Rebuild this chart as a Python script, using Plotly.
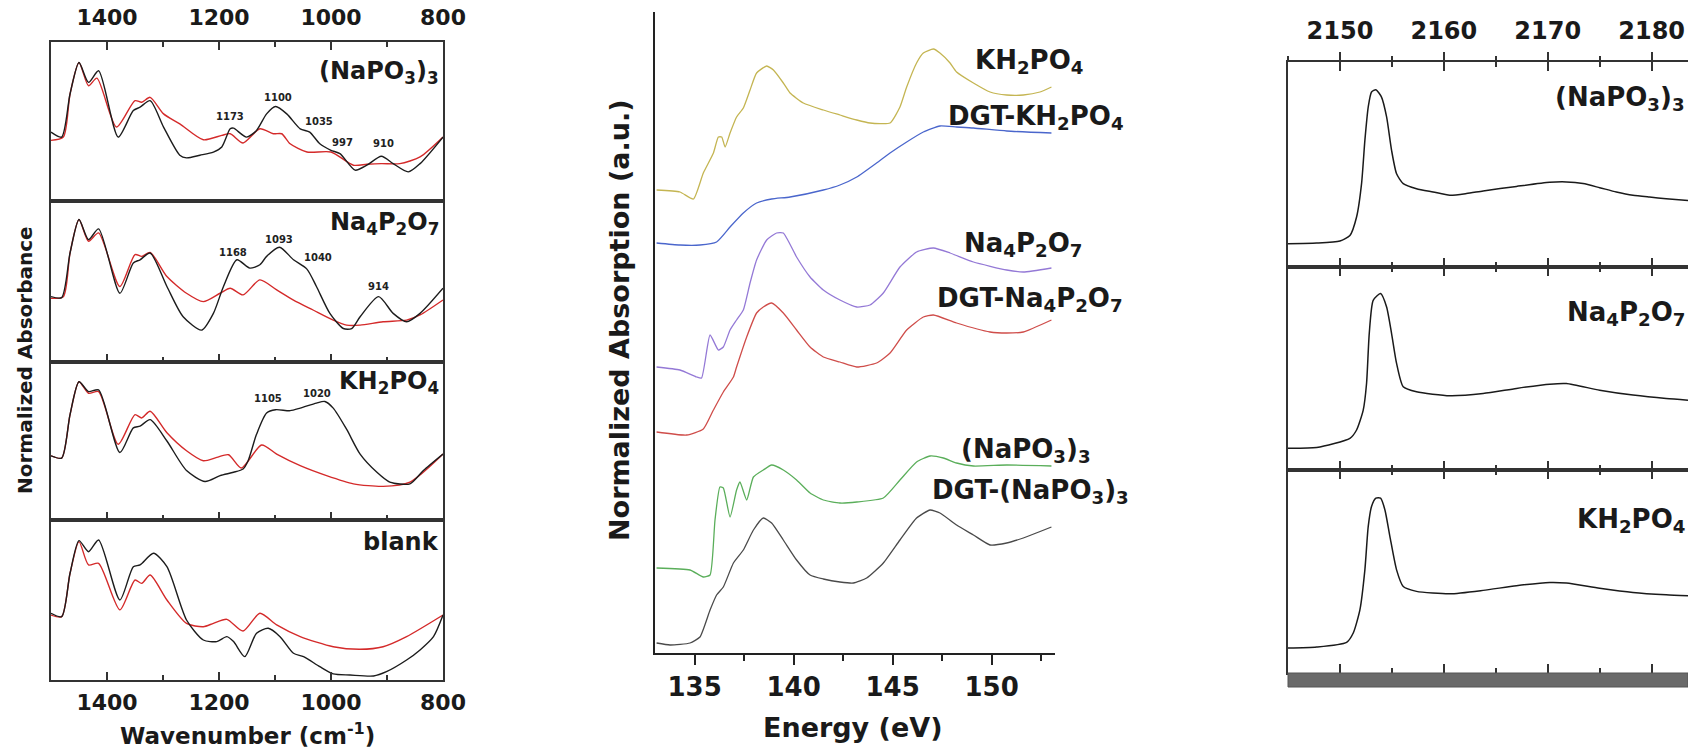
import plotly.graph_objects as go

W, H = 1688, 749
FONT = "DejaVu Sans"
INK = "#1a1a1a"
FRAME = "#333333"

# ---------------- Left: FTIR panels (wavenumber, normalized absorbance) ----------------
ir_labels = ["(NaPO<sub>3</sub>)<sub>3</sub>", "Na<sub>4</sub>P<sub>2</sub>O<sub>7</sub>",
             "KH<sub>2</sub>PO<sub>4</sub>", "blank"]

ir_napo3_black_wn = [1500, 1481, 1466, 1450, 1433, 1415, 1380, 1353, 1341, 1323, 1299, 1270, 1258, 1234, 1210,
                     1195, 1180, 1174, 1151, 1133, 1115, 1099, 1079, 1055, 1038, 1020, 1000, 984, 957, 936,
                     910, 889, 862, 841, 800]
ir_napo3_black_ab = [0.433, 0.402, 0.673, 0.871, 0.746, 0.819, 0.402, 0.569, 0.590, 0.631, 0.465, 0.288, 0.271,
                     0.288, 0.308, 0.340, 0.454, 0.458, 0.402, 0.444, 0.548, 0.594, 0.548, 0.454, 0.433, 0.360,
                     0.319, 0.298, 0.194, 0.225, 0.281, 0.235, 0.183, 0.235, 0.402]
ir_napo3_red_wn = [1500, 1478, 1466, 1450, 1433, 1418, 1383, 1350, 1338, 1323, 1299, 1270, 1228, 1195, 1180,
                   1157, 1127, 1103, 1088, 1073, 1043, 1000, 960, 936, 910, 877, 841, 800]
ir_napo3_red_ab = [0.381, 0.402, 0.673, 0.871, 0.725, 0.773, 0.465, 0.631, 0.621, 0.652, 0.548, 0.485, 0.385,
                   0.413, 0.423, 0.365, 0.454, 0.423, 0.423, 0.360, 0.308, 0.308, 0.225, 0.231, 0.235, 0.235,
                   0.277, 0.402]

ir_na4_black_wn = [1500, 1481, 1466, 1450, 1433, 1415, 1377, 1353, 1341, 1323, 1293, 1264, 1231, 1210, 1192,
                   1168, 1145, 1127, 1115, 1092, 1067, 1043, 1026, 1002, 978, 963, 948, 915, 889, 865, 841, 800]
ir_na4_black_ab = [0.406, 0.400, 0.677, 0.885, 0.760, 0.827, 0.427, 0.615, 0.635, 0.677, 0.469, 0.281, 0.198,
                   0.302, 0.469, 0.635, 0.583, 0.604, 0.656, 0.713, 0.635, 0.577, 0.469, 0.302, 0.208, 0.208,
                   0.281, 0.406, 0.302, 0.250, 0.302, 0.458]
ir_na4_red_wn = [1500, 1478, 1466, 1450, 1433, 1415, 1377, 1350, 1338, 1323, 1293, 1258, 1228, 1198, 1180,
                 1157, 1127, 1097, 1067, 1032, 996, 972, 948, 907, 865, 841, 800]
ir_na4_red_ab = [0.396, 0.406, 0.677, 0.885, 0.750, 0.802, 0.469, 0.667, 0.656, 0.681, 0.531, 0.427, 0.375,
                 0.427, 0.458, 0.417, 0.510, 0.448, 0.385, 0.323, 0.260, 0.229, 0.229, 0.250, 0.260, 0.292, 0.385]

ir_kh_black_wn = [1500, 1481, 1466, 1450, 1433, 1415, 1377, 1353, 1341, 1323, 1293, 1258, 1225, 1198, 1174,
                  1157, 1148, 1133, 1115, 1099, 1073, 1055, 1026, 1011, 996, 972, 948, 918, 895, 859, 835, 800]
ir_kh_black_ab = [0.406, 0.392, 0.667, 0.875, 0.813, 0.823, 0.427, 0.583, 0.594, 0.635, 0.500, 0.313, 0.244,
                  0.281, 0.302, 0.323, 0.375, 0.542, 0.677, 0.698, 0.692, 0.708, 0.740, 0.750, 0.708, 0.573,
                  0.417, 0.302, 0.240, 0.229, 0.313, 0.417]
ir_kh_red_wn = [1500, 1481, 1466, 1450, 1433, 1415, 1380, 1350, 1338, 1323, 1293, 1258, 1228, 1204, 1183,
                1160, 1124, 1097, 1055, 1008, 960, 907, 859, 800]
ir_kh_red_ab = [0.406, 0.392, 0.667, 0.875, 0.802, 0.813, 0.479, 0.667, 0.646, 0.688, 0.552, 0.438, 0.375,
                0.396, 0.413, 0.329, 0.475, 0.417, 0.344, 0.281, 0.229, 0.213, 0.240, 0.417]

ir_blank_black_wn = [1500, 1481, 1466, 1450, 1433, 1415, 1377, 1353, 1341, 1317, 1293, 1258, 1228, 1204, 1186,
                     1174, 1154, 1133, 1112, 1091, 1067, 1049, 1020, 996, 966, 924, 901, 865, 841, 817, 800]
ir_blank_black_ab = [0.417, 0.396, 0.667, 0.871, 0.802, 0.875, 0.500, 0.708, 0.719, 0.792, 0.708, 0.375, 0.250,
                     0.240, 0.271, 0.240, 0.146, 0.292, 0.323, 0.271, 0.167, 0.146, 0.083, 0.038, 0.031, 0.025,
                     0.052, 0.125, 0.188, 0.271, 0.406]
ir_blank_red_wn = [1500, 1481, 1466, 1450, 1433, 1415, 1377, 1350, 1338, 1323, 1293, 1258, 1228, 1210, 1186,
                   1157, 1127, 1097, 1055, 996, 948, 907, 865, 800]
ir_blank_red_ab = [0.406, 0.396, 0.667, 0.865, 0.719, 0.729, 0.438, 0.625, 0.604, 0.656, 0.500, 0.354, 0.333,
                   0.354, 0.379, 0.306, 0.417, 0.344, 0.271, 0.208, 0.192, 0.208, 0.271, 0.406]

# peak labels: (panel index, text, wavenumber, height in panel)
ir_peak_panel = [0, 0, 0, 0, 0, 1, 1, 1, 1, 2, 2]
ir_peak_text = ["1173", "1100", "1035", "997", "910", "1168", "1093", "1040", "914", "1105", "1020"]
ir_peak_wn = [1180, 1095, 1021, 979, 907, 1175, 1093, 1023, 916, 1112, 1025]
ir_peak_y = [0.53, 0.65, 0.50, 0.37, 0.36, 0.68, 0.76, 0.65, 0.47, 0.77, 0.80]
ir_label_y = [0.81, 0.86, 0.87, 0.86]

# ---------------- Middle: P L-edge XANES ----------------
xas_names = ["KH<sub>2</sub>PO<sub>4</sub>", "DGT-KH<sub>2</sub>PO<sub>4</sub>",
             "Na<sub>4</sub>P<sub>2</sub>O<sub>7</sub>", "DGT-Na<sub>4</sub>P<sub>2</sub>O<sub>7</sub>",
             "(NaPO<sub>3</sub>)<sub>3</sub>", "DGT-(NaPO<sub>3</sub>)<sub>3</sub>"]
xas_colors = ["#c4b552", "#4a66cc", "#9479d6", "#cf4d4a", "#5aae5a", "#4a4a4a"]
xas_label_e = [151.89, 152.24, 151.59, 151.94, 151.74, 151.94]
xas_label_y = [5.91, 5.35, 4.08, 3.54, 2.03, 1.62]

xas_kh_e = [133.08, 134.26, 134.94, 135.44, 135.95, 136.20, 136.37, 136.54, 136.79, 137.12, 137.46, 137.80,
            138.13, 138.64, 138.98, 139.48, 139.82, 140.49, 141.50, 142.34, 143.19, 143.86, 144.87, 145.37,
            145.71, 146.21, 146.55, 147.06, 147.39, 147.90, 148.23, 149.08, 149.92, 150.76, 151.60, 152.44, 153.02]
xas_kh_a = [4.63, 4.61, 4.54, 4.80, 5.00, 5.16, 5.16, 5.06, 5.20, 5.36, 5.45, 5.63, 5.80, 5.87, 5.83, 5.70,
            5.60, 5.50, 5.43, 5.38, 5.33, 5.30, 5.30, 5.46, 5.66, 5.90, 6.00, 6.04, 6.00, 5.90, 5.81, 5.70,
            5.61, 5.58, 5.58, 5.61, 5.66]
xas_dgtkh_e = [133.08, 134.26, 135.27, 136.11, 136.79, 137.46, 138.13, 138.89, 139.82, 141.50, 142.34, 143.19,
               144.19, 144.87, 145.71, 146.55, 147.39, 148.23, 149.08, 150.76, 153.02]
xas_dgtkh_a = [4.10, 4.08, 4.08, 4.11, 4.26, 4.40, 4.50, 4.54, 4.56, 4.63, 4.68, 4.76, 4.90, 5.00, 5.11, 5.21,
               5.27, 5.26, 5.25, 5.22, 5.20]
xas_na4_e = [133.08, 134.26, 135.10, 135.35, 135.78, 136.20, 136.45, 136.79, 137.12, 137.46, 137.80, 138.13,
             138.64, 139.14, 139.48, 140.15, 140.83, 141.50, 142.34, 143.19, 143.86, 144.53, 145.37, 146.21,
             147.06, 147.90, 149.08, 150.76, 151.60, 153.02]
xas_na4_a = [2.86, 2.83, 2.76, 2.75, 3.18, 3.03, 3.06, 3.23, 3.33, 3.43, 3.70, 3.93, 4.13, 4.20, 4.20, 3.96,
             3.76, 3.63, 3.53, 3.46, 3.48, 3.60, 3.86, 4.01, 4.05, 4.00, 3.91, 3.83, 3.81, 3.85]
xas_dgtna4_e = [133.08, 134.60, 135.44, 135.95, 136.45, 136.96, 137.12, 137.63, 138.13, 138.47, 138.89, 139.48,
                140.15, 140.83, 141.50, 142.34, 143.19, 144.19, 144.87, 145.71, 146.55, 147.06, 148.23, 149.92,
                150.76, 151.60, 153.02]
xas_dgtna4_a = [2.21, 2.18, 2.24, 2.43, 2.61, 2.76, 2.86, 3.16, 3.40, 3.46, 3.50, 3.40, 3.23, 3.06, 2.96, 2.91,
                2.86, 2.90, 3.00, 3.23, 3.36, 3.38, 3.30, 3.21, 3.20, 3.21, 3.33]
xas_napo3_e = [133.08, 134.77, 135.44, 135.78, 136.03, 136.28, 136.45, 136.79, 137.12, 137.29, 137.63, 137.97,
               138.47, 138.89, 139.48, 140.15, 140.83, 141.50, 142.34, 143.19, 144.53, 145.37, 146.21, 146.89,
               147.56, 148.23, 149.08, 150.76, 153.02]
xas_napo3_a = [0.85, 0.83, 0.76, 0.78, 1.33, 1.66, 1.65, 1.36, 1.63, 1.71, 1.53, 1.76, 1.83, 1.88, 1.83, 1.73,
               1.60, 1.53, 1.50, 1.51, 1.55, 1.73, 1.91, 1.97, 1.95, 1.90, 1.87, 1.88, 1.87]
xas_dgtnapo3_e = [133.08, 133.76, 134.77, 135.27, 135.78, 136.11, 136.45, 136.96, 137.46, 137.97, 138.47, 138.89,
                  139.48, 140.15, 140.83, 141.50, 142.34, 143.02, 143.69, 144.53, 145.37, 146.21, 146.89, 147.39,
                  148.23, 149.08, 149.92, 150.76, 151.60, 153.02]
xas_dgtnapo3_a = [0.10, 0.08, 0.10, 0.16, 0.43, 0.58, 0.66, 0.90, 1.03, 1.23, 1.35, 1.30, 1.13, 0.93, 0.78, 0.74,
                  0.71, 0.70, 0.75, 0.90, 1.13, 1.35, 1.43, 1.40, 1.28, 1.18, 1.08, 1.10, 1.15, 1.26]

# ---------------- Right: P K-edge XANES ----------------
k_labels = ["(NaPO<sub>3</sub>)<sub>3</sub>", "Na<sub>4</sub>P<sub>2</sub>O<sub>7</sub>", "KH<sub>2</sub>PO<sub>4</sub>"]
k_napo3_e = [2145.0, 2147.76, 2150.0, 2150.96, 2151.6, 2152.08, 2152.4, 2152.72, 2153.04, 2153.46, 2154.0,
             2154.49, 2154.97, 2155.45, 2156.09, 2157.37, 2158.97, 2160.58, 2162.18, 2163.78, 2166.99, 2170.19,
             2171.8, 2173.4, 2175.0, 2176.6, 2178.2, 2179.8, 2181.4, 2183.5]
k_napo3_v = [0.114, 0.117, 0.127, 0.154, 0.244, 0.407, 0.618, 0.780, 0.854, 0.865, 0.829, 0.732, 0.569, 0.455,
             0.407, 0.382, 0.366, 0.350, 0.358, 0.371, 0.393, 0.413, 0.415, 0.407, 0.387, 0.366, 0.350, 0.341,
             0.333, 0.325]
k_na4_e = [2145.0, 2147.76, 2150.96, 2151.6, 2152.24, 2152.56, 2152.82, 2153.2, 2153.91, 2154.49, 2154.97,
           2155.45, 2156.09, 2157.37, 2160.58, 2163.78, 2166.99, 2170.19, 2171.8, 2175.0, 2178.2, 2181.4, 2183.5]
k_na4_v = [0.107, 0.111, 0.156, 0.197, 0.295, 0.426, 0.672, 0.836, 0.869, 0.803, 0.672, 0.525, 0.410, 0.385,
           0.366, 0.377, 0.402, 0.423, 0.426, 0.393, 0.369, 0.352, 0.344]
k_kh_e = [2145.0, 2147.76, 2150.64, 2151.28, 2151.92, 2152.4, 2152.72, 2153.04, 2153.46, 2153.91, 2154.33,
          2154.81, 2155.45, 2156.09, 2157.37, 2160.58, 2163.78, 2166.99, 2170.19, 2171.8, 2175.0, 2178.2,
          2181.4, 2183.5]
k_kh_v = [0.123, 0.128, 0.151, 0.197, 0.311, 0.508, 0.721, 0.820, 0.861, 0.861, 0.803, 0.672, 0.508, 0.426,
          0.402, 0.390, 0.407, 0.430, 0.446, 0.443, 0.418, 0.397, 0.385, 0.380]
k_label_yv = [0.82, 0.77, 0.75]

# ---------------- layout geometry (pixels) ----------------
def fx(p):
    return p / W


def fy(p):
    return 1 - p / H


IR_X = (51, 443)
IR_ROWS = [(42, 201), (201, 362), (362, 520), (520, 680)]
XAS_X = (655, 1055)
XAS_Y = (12, 653)
K_X = (1288, W)
K_ROWS = [(62, 267), (267, 470), (470, 673)]

fig = go.Figure()
lay = {}


def bold(size, color=INK):
    return dict(family=FONT, size=size, color=color, weight="bold")


# ---- left traces ----
ir_series = [
    (ir_napo3_black_wn, ir_napo3_black_ab, ir_napo3_red_wn, ir_napo3_red_ab),
    (ir_na4_black_wn, ir_na4_black_ab, ir_na4_red_wn, ir_na4_red_ab),
    (ir_kh_black_wn, ir_kh_black_ab, ir_kh_red_wn, ir_kh_red_ab),
    (ir_blank_black_wn, ir_blank_black_ab, ir_blank_red_wn, ir_blank_red_ab),
]
for i, (bw, ba, rw, ra) in enumerate(ir_series):
    n = i + 1
    xr = "x" if n == 1 else f"x{n}"
    yr = "y" if n == 1 else f"y{n}"
    fig.add_trace(go.Scatter(x=rw, y=ra, xaxis=xr, yaxis=yr, mode="lines",
                             line=dict(color="#d42a2a", width=1.4, shape="spline", smoothing=0.7),
                             showlegend=False, hoverinfo="skip"))
    fig.add_trace(go.Scatter(x=bw, y=ba, xaxis=xr, yaxis=yr, mode="lines",
                             line=dict(color="#1c1c1c", width=1.4, shape="spline", smoothing=0.7),
                             showlegend=False, hoverinfo="skip"))
    top, bot = IR_ROWS[i]
    xname = "xaxis" if n == 1 else f"xaxis{n}"
    yname = "yaxis" if n == 1 else f"yaxis{n}"
    lay[xname] = dict(
        domain=[fx(IR_X[0]), fx(IR_X[1])], range=[1500, 800], anchor=yr, automargin=False,
        showline=True, linecolor=FRAME, linewidth=2, mirror=True,
        ticks="inside", ticklen=8, tickwidth=2, tickcolor=FRAME, tick0=0, dtick=200,
        minor=dict(ticks="inside", dtick=100, ticklen=5, tickwidth=1.5, tickcolor=FRAME),
        showticklabels=(n in (1, 4)), side="top" if n == 1 else "bottom",
        tickfont=bold(22), ticklabelstandoff=6 if n == 1 else 2,
        showgrid=False, zeroline=False, fixedrange=True)
    lay[yname] = dict(
        domain=[fy(bot), fy(top)], range=[0, 1], anchor=xr, automargin=False,
        showline=True, linecolor=FRAME, linewidth=2, mirror=True,
        ticks="", showticklabels=False, showgrid=False, zeroline=False, fixedrange=True)

# ---- middle traces ----
xas_series = [(xas_kh_e, xas_kh_a), (xas_dgtkh_e, xas_dgtkh_a), (xas_na4_e, xas_na4_a),
              (xas_dgtna4_e, xas_dgtna4_a), (xas_napo3_e, xas_napo3_a), (xas_dgtnapo3_e, xas_dgtnapo3_a)]
for (e, a), c in zip(xas_series, xas_colors):
    fig.add_trace(go.Scatter(x=e, y=a, xaxis="x5", yaxis="y5", mode="lines",
                             line=dict(color=c, width=1.3, shape="spline", smoothing=0.5),
                             showlegend=False, hoverinfo="skip"))
lay["xaxis5"] = dict(
    domain=[fx(XAS_X[0]), fx(XAS_X[1])], range=[133.0, 153.2], anchor="y5", automargin=False,
    showline=True, linecolor="#222", linewidth=2, ticks="outside", ticklen=10, tickwidth=2,
    tickcolor="#222", tick0=0, dtick=5,
    minor=dict(ticks="outside", dtick=2.5, ticklen=6, tickwidth=1.5, tickcolor="#222"),
    tickfont=bold(26), ticklabelstandoff=0, showgrid=False, zeroline=False, fixedrange=True)
lay["yaxis5"] = dict(
    domain=[fy(XAS_Y[1]), fy(XAS_Y[0])], range=[0, 6.41], anchor="x5", automargin=False,
    showline=True, linecolor="#222", linewidth=2, ticks="", showticklabels=False,
    showgrid=False, zeroline=False, fixedrange=True)

# ---- right traces ----
k_series = [(k_napo3_e, k_napo3_v), (k_na4_e, k_na4_v), (k_kh_e, k_kh_v)]
for j, (e, v) in enumerate(k_series):
    n = 6 + j
    fig.add_trace(go.Scatter(x=e, y=v, xaxis=f"x{n}", yaxis=f"y{n}", mode="lines",
                             line=dict(color="#1a1a1a", width=1.5, shape="spline", smoothing=0.6),
                             showlegend=False, hoverinfo="skip"))
    top, bot = K_ROWS[j]
    lay[f"xaxis{n}"] = dict(
        domain=[fx(K_X[0]), 1.0], range=[2145, 2183.5], anchor=f"y{n}", automargin=False,
        showline=True, linecolor=FRAME, linewidth=2, mirror="ticks",
        ticks="inside", ticklen=9, tickwidth=2, tickcolor=FRAME, tick0=0, dtick=10,
        minor=dict(ticks="inside", dtick=5, ticklen=5, tickwidth=2, tickcolor=FRAME),
        showticklabels=False, showgrid=False, zeroline=False, fixedrange=True)
    lay[f"yaxis{n}"] = dict(
        domain=[fy(bot), fy(top)], range=[0, 1], anchor=f"x{n}", automargin=False,
        showline=True, linecolor=FRAME, linewidth=2, mirror=False,
        ticks="", showticklabels=False, showgrid=False, zeroline=False, fixedrange=True)

# top tick labels of the right panel (overlay axis carrying the outward ticks)
fig.add_trace(go.Scatter(x=k_napo3_e, y=k_napo3_v, xaxis="x9", yaxis="y6", mode="lines",
                         line=dict(color="rgba(0,0,0,0)", width=0), showlegend=False, hoverinfo="skip"))
lay["xaxis9"] = dict(
    overlaying="x6", anchor="y6", side="top", range=[2145, 2183.5], automargin=False,
    showline=False, ticks="outside", ticklen=9, tickwidth=2, tickcolor=FRAME, tick0=0, dtick=10,
    minor=dict(ticks="outside", dtick=5, ticklen=5, tickwidth=2, tickcolor=FRAME),
    showticklabels=True, tickfont=bold(24), ticklabelstandoff=3,
    showgrid=False, zeroline=False, fixedrange=True)

# ---------------- annotations ----------------
ann = []
# left panel labels
for i, (txt, yv) in enumerate(zip(ir_labels, ir_label_y)):
    n = i + 1
    xr = "x" if n == 1 else f"x{n}"
    yr = "y" if n == 1 else f"y{n}"
    ann.append(dict(text=txt, xref=f"{xr} domain", yref=f"{yr} domain", x=0.995, y=yv,
                    xanchor="right", yanchor="middle", showarrow=False, font=bold(24)))
for p, t, w, yv in zip(ir_peak_panel, ir_peak_text, ir_peak_wn, ir_peak_y):
    n = p + 1
    xr = "x" if n == 1 else f"x{n}"
    yr = "y" if n == 1 else f"y{n}"
    ann.append(dict(text=t, xref=xr, yref=yr, x=w, y=yv, showarrow=False,
                    xanchor="center", yanchor="middle", font=bold(10, "#222")))
ann.append(dict(text="Normalized Absorbance", xref="paper", yref="paper", x=fx(25), y=fy(360),
                xanchor="center", yanchor="middle", textangle=-90, showarrow=False, font=bold(20)))
ann.append(dict(text="Wavenumber (cm<sup>-1</sup>)", xref="paper", yref="paper", x=fx(247), y=fy(734),
                xanchor="center", yanchor="middle", showarrow=False, font=bold(23)))

# middle labels
for txt, xv, yv in zip(xas_names, xas_label_e, xas_label_y):
    ann.append(dict(text=txt, xref="x5", yref="y5", x=xv, y=yv, showarrow=False,
                    xanchor="center", yanchor="middle", font=bold(26)))
ann.append(dict(text="Normalized Absorption (a.u.)", xref="paper", yref="paper", x=fx(619), y=fy(320),
                xanchor="center", yanchor="middle", textangle=-90, showarrow=False, font=bold(27)))
ann.append(dict(text="Energy (eV)", xref="paper", yref="paper", x=fx(853), y=fy(727),
                xanchor="center", yanchor="middle", showarrow=False, font=bold(27)))

# right labels (kept fully inside the page, against its right edge)
for j, (txt, yv) in enumerate(zip(k_labels, k_label_yv)):
    n = 6 + j
    ann.append(dict(text=txt, xref="paper", yref=f"y{n}", x=0.999, y=yv, showarrow=False,
                    xanchor="right", yanchor="middle", borderpad=0, font=bold(26)))

shapes = [dict(type="rect", xref="paper", yref="paper", x0=fx(K_X[0]), x1=1.0, y0=fy(687), y1=fy(673),
               fillcolor="#6a6a6a", line=dict(color="#555", width=1), layer="above")]

fig.update_layout(
    width=W, height=H, margin=dict(l=0, r=0, t=0, b=0, autoexpand=False),
    paper_bgcolor="white", plot_bgcolor="white",
    font=dict(family=FONT, color=INK),
    annotations=ann, shapes=shapes, showlegend=False,
    **lay)

fig.write_html("out.html", config={"displayModeBar": False, "responsive": False},
               post_script="document.body.style.margin='0px';")
